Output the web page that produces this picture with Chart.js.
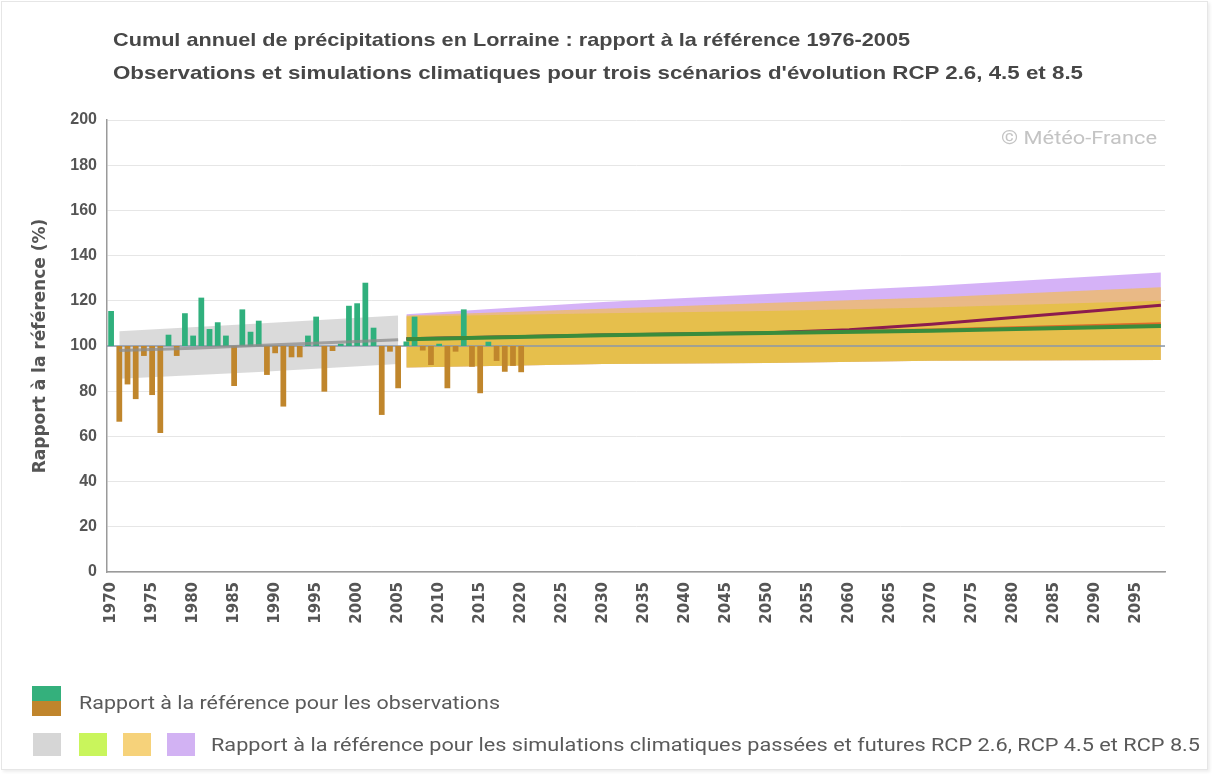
<!DOCTYPE html>
<html><head><meta charset="utf-8">
<script src="https://cdn.jsdelivr.net/npm/chart.js@4.4.0/dist/chart.umd.min.js"></script>
<style>
html,body{margin:0;padding:0;background:#fff;}
#wrap{position:relative;width:1218px;height:776px;overflow:hidden;background:#fff;}
#frame{position:absolute;left:1px;top:1px;width:1205px;height:767px;border:1px solid #e6e6e6;box-shadow:2px 2px 3px rgba(0,0,0,0.07);}
canvas{position:absolute;left:0;top:0;}
.t{position:absolute;white-space:nowrap;transform-origin:0 50%;line-height:22px;}
.title{font-family:"Liberation Sans",Arial,sans-serif;font-weight:bold;font-size:19px;color:#474747;left:113px;}
.leg{font-family:Roboto,"Noto Sans",sans-serif;font-size:19px;color:#5a5a5a;}
.wm{font-family:Roboto,"Noto Sans",sans-serif;font-size:18px;color:#c4c4c4;}
.sq{position:absolute;}
</style></head>
<body><div id="wrap">
<div id="frame"></div>
<canvas id="c" width="1218" height="776"></canvas>
<div class="t title" style="top:29px" data-w="797">Cumul annuel de précipitations en Lorraine : rapport à la référence 1976-2005</div>
<div class="t title" style="top:62px" data-w="970">Observations et simulations climatiques pour trois scénarios d'évolution RCP 2.6, 4.5 et 8.5</div>
<div class="t wm" style="left:1001px;top:127px" data-w="156">© Météo-France</div>
<div class="sq" style="left:32px;top:686px;width:29px;height:15px;background:#34b07c"></div>
<div class="sq" style="left:32px;top:701px;width:29px;height:15px;background:#c0852c"></div>
<div class="t leg" style="left:79px;top:692px" data-w="421">Rapport à la référence pour les observations</div>
<div class="sq" style="left:33px;top:733px;width:28px;height:23px;background:#d6d6d6"></div>
<div class="sq" style="left:79px;top:733px;width:28px;height:23px;background:#c9f55c"></div>
<div class="sq" style="left:123px;top:733px;width:28px;height:23px;background:#f6d27a"></div>
<div class="sq" style="left:167px;top:733px;width:28px;height:23px;background:#d2b2f3"></div>
<div class="t leg" style="left:211px;top:734px" data-w="989">Rapport à la référence pour les simulations climatiques passées et futures RCP 2.6, RCP 4.5 et RCP 8.5</div>
</div>
<script>
// ---- Data ----
const obsStartYear = 1970;
const obsValues = [115.5, 66.5, 83, 76.5, 95.6, 78.3, 61.5, 105, 95.6, 114.5,
  104.6, 121.4, 107.5, 110.5, 104.6, 82.3, 116.2, 106.3, 111.2, 87.2,
  96.8, 73.2, 95, 95, 104.6, 113, 79.8, 97.8, 101, 117.8,
  118.9, 128, 108.1, 69.5, 97.5, 81.3, 102, 113, 98, 91.6,
  101, 81.3, 97.5, 116.2, 90.8, 79.1, 101.9, 93.4, 88.6, 91.2, 88.4];

const pastYears = [1971, 1988, 2005];
const pastTop = [106.5, 110, 113.5];
const pastBottom = [85.5, 88.5, 92];
const pastMedianYears = [1971, 1980, 1990, 2000, 2005];
const pastMedian = [98, 99, 100.5, 102, 102.8];

const futYears = [2006, 2030, 2050, 2070, 2098];
const rcp85Top = [114, 119.5, 123, 126.5, 132.5];
const rcp45Top = [113.5, 116.5, 119, 121.5, 126];
const rcp26Top = [113, 114.5, 115.5, 117, 120];
const futBottom = [90.5, 92, 92.5, 93.5, 93.8];

const medYears85 = [2006, 2030, 2050, 2060, 2070, 2080, 2090, 2098];
const rcp85Median = [103.2, 104.9, 105.9, 107.2, 109.6, 112.6, 115.6, 118];
const rcp45Median = [103.2, 104.9, 105.9, 107.2, 109.6];
const rcp26Median = [103, 104.8, 105.8, 106.8, 108.8];

const refYears = [1969.5, 2098.5];
const refValues = [100, 100];

const yearTicks = [1970,1975,1980,1985,1990,1995,2000,2005,2010,2015,2020,2025,2030,2035,2040,2045,2050,2055,2060,2065,2070,2075,2080,2085,2090,2095];
const yTicks = [0,20,40,60,80,100,120,140,160,180,200];

// ---- Build ----
const pts = (xs, ys) => xs.map((x, i) => ({x: x, y: ys[i]}));
const obsPts = obsValues.map((v, i) => ({x: obsStartYear + i, y: [100, v]}));

function band(data, color, order, fill) {
  return {type: 'line', data: data, borderWidth: 0, pointRadius: 0, fill: fill ? '+1' : false,
    backgroundColor: color, borderColor: 'rgba(0,0,0,0)', order: order};
}
function line(data, color, width, order) {
  return {type: 'line', data: data, borderColor: color, borderWidth: width, pointRadius: 0,
    fill: false, order: order, tension: 0};
}

const datasets = [
  band(pts(pastYears, pastTop), 'rgba(214,214,214,0.9)', 10, true),
  band(pts(pastYears, pastBottom), 'rgba(0,0,0,0)', 10, false),
  band(pts(futYears, rcp85Top), 'rgba(208,170,246,0.9)', 9, true),
  band(pts(futYears, futBottom), 'rgba(0,0,0,0)', 9, false),
  band(pts(futYears, rcp45Top), 'rgba(238,186,105,0.8)', 8, true),
  band(pts(futYears, futBottom), 'rgba(0,0,0,0)', 8, false),
  band(pts(futYears, rcp26Top), 'rgba(228,196,40,0.62)', 7, true),
  band(pts(futYears, futBottom), 'rgba(0,0,0,0)', 7, false),
  line(pts(refYears, refValues), '#8a97ab', 1.5, 6),
  {type: 'bar', data: obsPts, order: 5, categoryPercentage: 1, barPercentage: 0.7,
    backgroundColor: c => (c.raw && c.raw.y[1] >= 100) ? '#30b07d' : '#c0862c', borderWidth: 0},
  line(pts(pastMedianYears, pastMedian), 'rgba(140,140,140,0.75)', 3, 4),
  line(pts(medYears85, rcp85Median), '#8c1c4e', 3, 3),
  line(pts(futYears.slice(0, 5), rcp45Median.slice(0, 4).concat([110])), '#e06a2a', 2.5, 2),
  line(pts(futYears, rcp26Median), '#3a8c3c', 4, 1)
];

new Chart(document.getElementById('c'), {
  type: 'bar',
  data: {datasets: datasets},
  options: {
    responsive: false, animation: false, devicePixelRatio: 1,
    layout: {padding: {left: 0, right: 53, top: 120, bottom: 0}},
    plugins: {legend: {display: false}, tooltip: {enabled: false}, title: {display: false}},
    scales: {
      x: {
        type: 'linear', min: 1969.5, max: 2098.5, offset: false,
        afterFit: s => { s.height = 204; },
        afterBuildTicks: s => { s.ticks = yearTicks.map(v => ({value: v})); },
        grid: {display: false, drawTicks: false},
        border: {display: true, color: '#9a9a9a', width: 1.5},
        ticks: {autoSkip: false, minRotation: 90, maxRotation: 90, padding: 10, color: '#555',
          font: {family: 'DejaVu Sans', weight: 'bold', size: 15},
          callback: v => String(v)}
      },
      y: {
        min: 0, max: 200,
        afterFit: s => { s.width = 107; },
        afterBuildTicks: s => { s.ticks = yTicks.map(v => ({value: v})); },
        grid: {color: '#e6e6e6', lineWidth: 1, drawTicks: false},
        border: {display: true, color: '#9a9a9a', width: 1.5},
        ticks: {padding: 10, color: '#555',
          font: {family: '"Liberation Sans Narrow", "Liberation Sans", Arial', weight: 'bold', size: 16}},
        title: {display: true, text: 'Rapport à la référence (%)', color: '#555',
          font: {family: 'DejaVu Sans', weight: 'bold', size: 17}, padding: {top: 30, bottom: 0}}
      }
    }
  }
});

function fitTexts() {
  document.querySelectorAll('[data-w]').forEach(el => {
    el.style.transform = 'none';
    const w = el.getBoundingClientRect().width;
    el.style.transform = 'scaleX(' + (parseFloat(el.dataset.w) / w) + ')';
  });
}
fitTexts();
if (document.fonts && document.fonts.ready) document.fonts.ready.then(fitTexts);
</script>
</body></html>
